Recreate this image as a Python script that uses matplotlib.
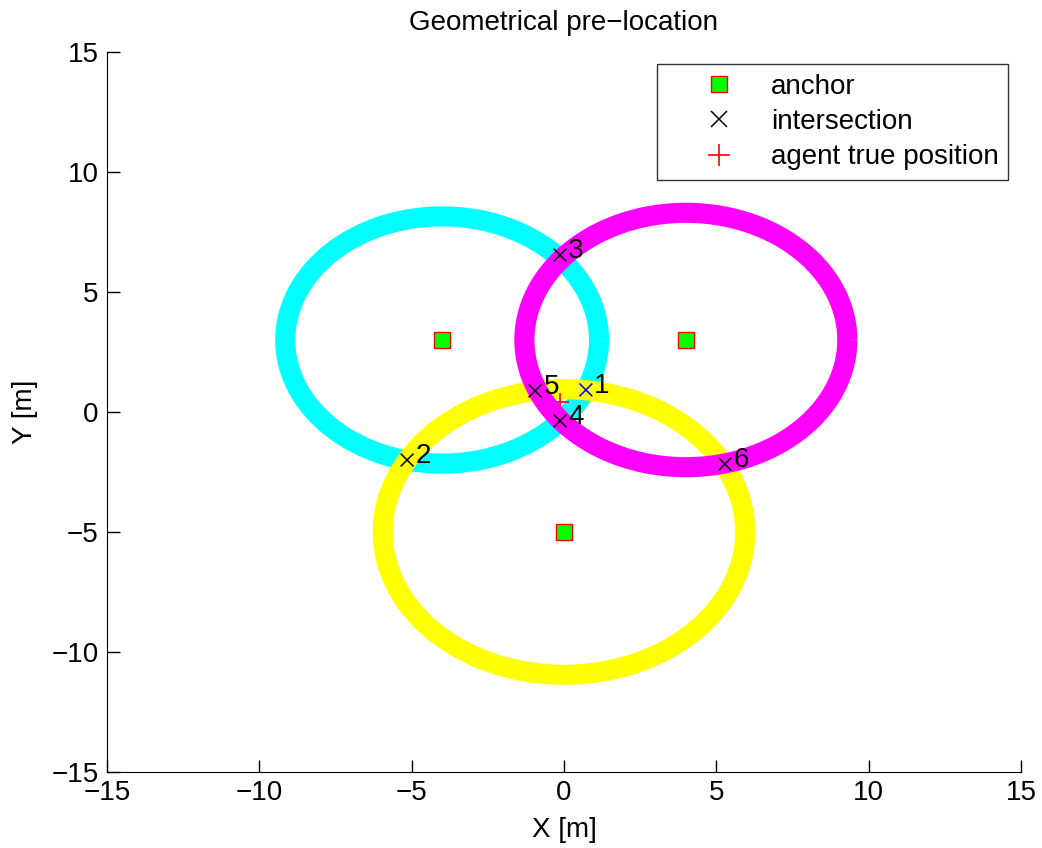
import numpy as np
import matplotlib.pyplot as plt

plt.rcParams['font.family'] = ['Liberation Sans', 'DejaVu Sans']

# anchors and measured ranges (rings)
anchor_x = [-4, 4, 0]
anchor_y = [3, 3, -5]
ring_r = [5.15, 5.3, 5.95]
ring_colors = ['cyan', 'magenta', 'yellow']
ring_order = [0, 2, 1]  # cyan, yellow, magenta

# intersections
inter_x = [0.72, -5.15, -0.13, -0.13, -0.95, 5.28]
inter_y = [0.92, -2.0, 6.54, -0.37, 0.88, -2.17]
inter_labels = ['1', '2', '3', '4', '5', '6']
inter_colors = ['blue', 'black', 'black', 'black', 'black', 'black']

# agent true position
agent_x = [-0.13]
agent_y = [0.42]

fig = plt.figure(figsize=(10.42, 8.48), dpi=100)
ax = fig.add_axes([0.1027, 0.0896, 0.8771, 0.8491])

t = np.linspace(0, 2 * np.pi, 400)
for k, i in enumerate(ring_order):
    ax.plot(anchor_x[i] + ring_r[i] * np.cos(t), anchor_y[i] + ring_r[i] * np.sin(t),
            color=ring_colors[i], lw=14.5, solid_capstyle='butt', zorder=2 + k)
    if k == 1:
        # true position drawn before the last ring
        ax.plot(agent_x, agent_y, '+', color='red', ms=13, mew=1.2, zorder=3.5)

ax.plot(anchor_x, anchor_y, 's', mfc=(0, 1, 0), mec='red', ms=11, mew=1, zorder=10)
ax.scatter(inter_x, inter_y, marker='x', c=inter_colors, s=85, linewidths=1.1, zorder=10)
for x, y, lab in zip(inter_x, inter_y, inter_labels):
    ax.annotate(lab, (x, y), xytext=(6, 3), textcoords='offset points',
                fontsize=20, va='center', ha='left', zorder=11)

# legend proxies
h1, = ax.plot([], [], 's', mfc=(0, 1, 0), mec='red', ms=11, mew=1, label='anchor')
h2, = ax.plot([], [], 'x', color='black', ms=11, mew=1.1, label='intersection')
h3, = ax.plot([], [], '+', color='red', ms=16, mew=1.2, label='agent true position')
leg = ax.legend(handles=[h1, h2, h3], loc='upper right', bbox_to_anchor=(0.986, 0.983),
                fontsize=20, frameon=True, fancybox=False, edgecolor='black',
                borderpad=0.35, labelspacing=0.33, handlelength=3.75, handletextpad=0.0,
                borderaxespad=0)
leg.get_frame().set_linewidth(1.0)

ax.set_xlim(-15, 15)
ax.set_ylim(-15, 15)
ax.set_xticks(np.arange(-15, 16, 5))
ax.set_yticks(np.arange(-15, 16, 5))
ax.tick_params(direction='in', length=9, width=1, labelsize=20, pad=6)
ax.spines['top'].set_visible(False)
ax.spines['right'].set_visible(False)
ax.set_xlabel('X [m]', fontsize=20, labelpad=8)
ax.set_ylabel('Y [m]', fontsize=20, labelpad=10)
ax.set_title('Geometrical pre\u2212location', fontsize=20, pad=16)

fig.savefig('out.png', dpi=100)
